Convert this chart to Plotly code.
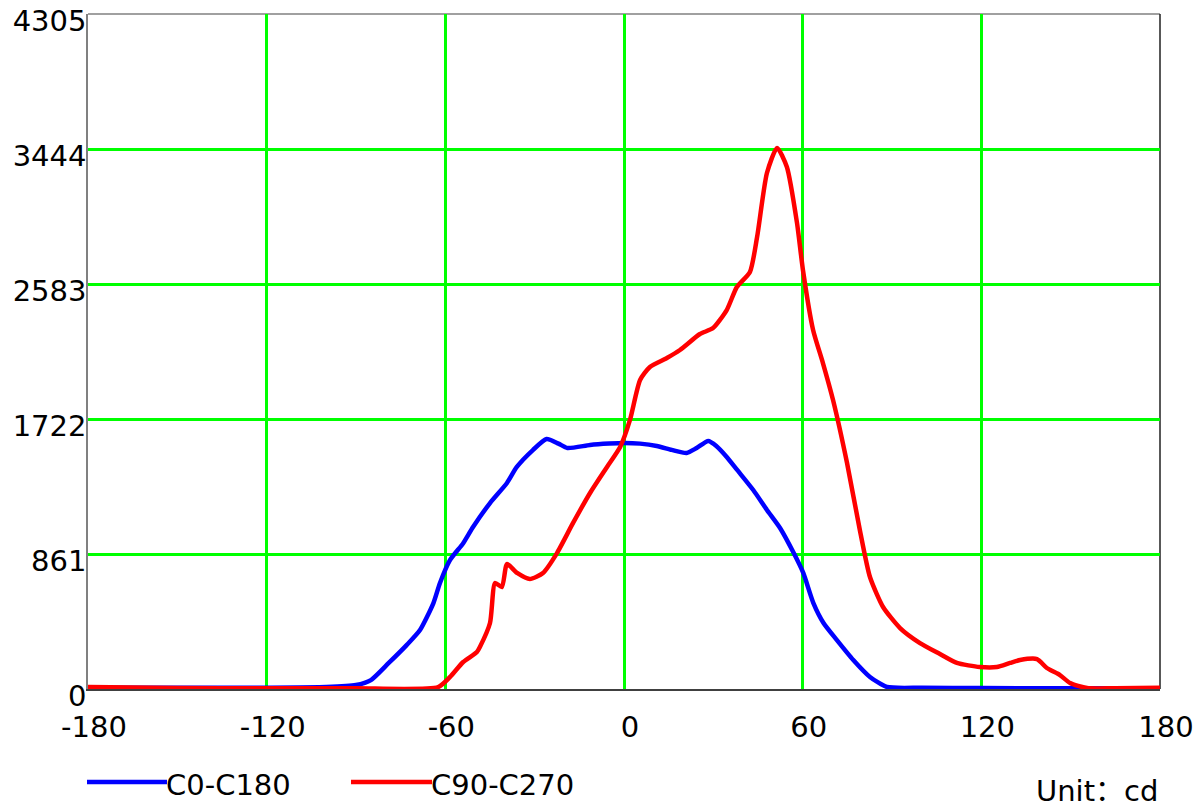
import plotly.graph_objects as go

# C0-C180 (blue)
c0_angles = [-180, -150, -120, -100, -90, -85, -79, -73, -68.5, -64, -61.8, -58.4, -54, -50.7,
             -45, -39.3, -36, -30.6, -26, -22, -19, -11.4, -5, 0, 5.4, 11, 16, 21, 24.4, 28.3,
             31, 34.5, 38, 43.4, 48, 52.4, 57, 60.2, 63.6, 67, 71.5, 77, 82.6, 88.3, 100, 120,
             150, 180]
c0_values = [8, 8, 8, 12, 25, 57, 166, 280, 376, 548, 676, 823, 930, 1033,
             1186, 1314, 1416, 1524, 1594, 1565, 1537, 1556, 1565, 1569, 1565, 1550, 1525, 1505, 1537, 1582,
             1550, 1480, 1397, 1269, 1142, 1027, 867, 740, 548, 421, 312, 185, 77, 13, 8, 6,
             4, 3]

# C90-C270 (red)
c90_angles = [-180, -150, -120, -90, -62.4, -58.4, -54, -49.4, -48.4, -45, -43.3, -41, -39.3,
              -35.9, -31.6, -27.2, -22.5, -17.1, -11.4, -5.7, -1.3, 2, 5.4, 8.7, 14.4, 18.8,
              25.5, 29.9, 34.5, 37.9, 42.3, 44.7, 48, 51.4, 54.7, 58.1, 60.1, 63.5, 66.8, 70.2,
              74.9, 79.2, 82.6, 87, 92.7, 99.4, 106.1, 111.8, 119.5, 125.2, 129.6, 133, 138.7,
              142, 146.4, 149.8, 155.5, 165, 180]
c90_values = [12, 6, 5, 4, 12, 77, 172, 236, 268, 421, 676, 650, 797,
              740, 702, 740, 867, 1059, 1250, 1416, 1543, 1716, 1971, 2054, 2111, 2162,
              2264, 2302, 2417, 2564, 2660, 2883, 3291, 3451, 3329, 2972, 2672, 2290, 2079, 1843,
              1441, 1014, 714, 523, 389, 293, 223, 166, 140, 140, 166, 185, 191,
              134, 89, 38, 6, 5, 8]

x_ticks = [-180, -120, -60, 0, 60, 120, 180]
x_grid = [-120, -60, 0, 60, 120]
y_ticks = [0, 861, 1722, 2583, 3444, 4305]
y_grid = [861, 1722, 2583, 3444]

series_names = ["C0-C180", "C90-C270"]
series_colors = ["#0000ff", "#ff0000"]
unit_text = "Unit\uff1acd"

FONT = "DejaVu Sans"
UNIT_FONT = "DejaVu Sans, Noto Sans CJK SC"
FS = 29
LW = 4.5

# page body adds an 8px offset; figure coordinates below are page coords minus 8
OFF = 8
L, T, R, B = 88 - OFF, 14 - OFF, 1160 - OFF, 689 - OFF
W, H = 1203 - OFF, 807 - OFF

fig = go.Figure()
fig.add_trace(go.Scatter(x=c0_angles, y=c0_values, mode="lines", name=series_names[0],
                         line=dict(color=series_colors[0], width=LW, shape="spline", smoothing=0.6),
                         showlegend=False))
fig.add_trace(go.Scatter(x=c90_angles, y=c90_values, mode="lines", name=series_names[1],
                         line=dict(color=series_colors[1], width=LW, shape="spline", smoothing=0.6),
                         showlegend=False))

fig.update_layout(
    width=W, height=H,
    margin=dict(l=L, r=W - R, t=T, b=H - B, autoexpand=False),
    paper_bgcolor="white", plot_bgcolor="white",
    font=dict(family=FONT, size=FS, color="black"),
    xaxis=dict(range=[-180, 180], tickvals=x_ticks, ticktext=[str(v) for v in x_ticks],
               showgrid=False, zeroline=False, showline=True, linecolor="#404040", linewidth=1.5,
               layer="below traces", ticks="", ticklabelstandoff=11, ticklabelshift=6,
               automargin=False, ticklabeloverflow="allow",
               tickfont=dict(family=FONT, size=FS, color="black"),
               minor=dict(tickvals=x_grid, showgrid=True, gridcolor="#00ff00", gridwidth=3, ticks="")),
    yaxis=dict(range=[0, 4305], tickvals=y_ticks, ticktext=[str(v) for v in y_ticks],
               showgrid=False, zeroline=False, showline=True, linecolor="#808080", linewidth=1.5,
               layer="below traces", ticks="", ticklabelstandoff=-6, ticklabelshift=7,
               automargin=False, ticklabeloverflow="allow",
               tickfont=dict(family=FONT, size=FS, color="black"),
               minor=dict(tickvals=y_grid, showgrid=True, gridcolor="#00ff00", gridwidth=3, ticks="")),
)

# top and right frame
fig.add_shape(type="line", xref="paper", yref="paper", x0=0, x1=1, y0=1, y1=1,
              line=dict(color="#808080", width=1.5), layer="between")
fig.add_shape(type="line", xref="paper", yref="paper", x0=1, x1=1, y0=0, y1=1,
              line=dict(color="#202020", width=1.5), layer="between")

# custom legend (positions in page pixels)
PW, PH = 1072.0, 675.0
leg_y = (689 - 782) / PH
legend_items = [(87, 167), (351, 432)]
for (xa, xb), name, col in zip(legend_items, series_names, series_colors):
    fig.add_shape(type="line", xref="paper", yref="paper",
                  x0=(xa - 88) / PW, x1=(xb - 88) / PW, y0=leg_y, y1=leg_y,
                  line=dict(color=col, width=LW))
    fig.add_annotation(xref="paper", yref="paper", x=(xb - 88) / PW, y=(689 - 785) / PH,
                       text=name, showarrow=False, xanchor="left", yanchor="middle",
                       font=dict(family=FONT, size=FS, color="black"), xshift=-3)

fig.add_annotation(xref="paper", yref="paper", x=1, y=(689 - 791) / PH, text=unit_text,
                   showarrow=False, xanchor="right", yanchor="middle",
                   font=dict(family=UNIT_FONT, size=FS, color="black"))

fig.write_html("out.html")
